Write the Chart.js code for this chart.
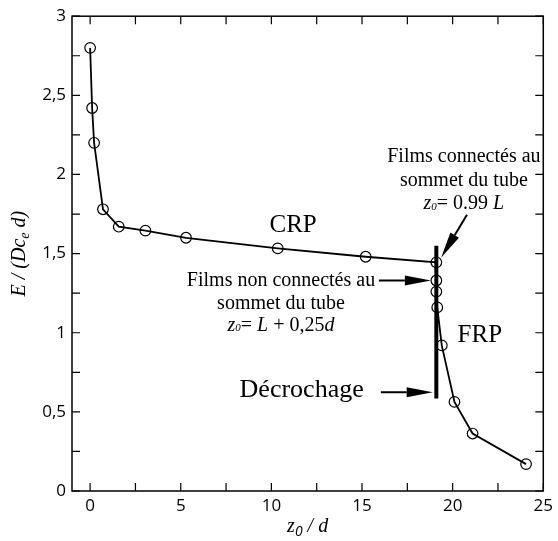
<!DOCTYPE html>
<html>
<head>
<meta charset="utf-8">
<script src="https://cdn.jsdelivr.net/npm/chart.js@4"></script>
<style>
    html, body { margin: 0; padding: 0; background: #fff; }
    #wrap { width: 558px; height: 541px; }
</style>
</head>
<body>
<div id="wrap"><canvas id="chart"></canvas></div>
<script>
// Data
const zValues = [0, 0.11, 0.22, 0.71, 1.58, 3.05, 5.29, 10.35, 15.2, 19.1, 19.1, 19.1, 19.15, 19.4, 20.1, 21.1, 24.05];
const eValues = [2.80, 2.42, 2.20, 1.78, 1.67, 1.645, 1.60, 1.533, 1.48, 1.445, 1.33, 1.26, 1.16, 0.92, 0.563, 0.363, 0.17];

// Vertical "décrochage" bar
const stallZ = [19.1, 19.1];
const stallE = [1.55, 0.584];

// Ticks
const xTicks = [0, 2.5, 5, 7.5, 10, 12.5, 15, 17.5, 20, 22.5, 25];
const yTicks = [0, 0.25, 0.5, 0.75, 1, 1.25, 1.5, 1.75, 2, 2.25, 2.5, 2.75, 3];

const serif = '"Liberation Serif", "Times New Roman", serif';
const sans = '"Open Sans", "DejaVu Sans", sans-serif';

// draw a run of text pieces (for subscripts), aligned on x
function drawRich(ctx, parts, x, y, align) {
    let total = 0;
    parts.forEach(p => {
        ctx.font = p.font;
        total += ctx.measureText(p.t).width;
    });
    let cx = x;
    if (align === 'center') cx = x - total / 2;
    if (align === 'right') cx = x - total;
    ctx.textAlign = 'left';
    ctx.textBaseline = 'middle';
    parts.forEach(p => {
        ctx.font = p.font;
        ctx.fillText(p.t, cx, y + (p.dy || 0));
        cx += ctx.measureText(p.t).width;
    });
}

function drawArrow(ctx, x1, y1, x2, y2) {
    const ang = Math.atan2(y2 - y1, x2 - x1);
    const headLen = 26, headHalf = 5;
    const bx = x2 - headLen * Math.cos(ang);
    const by = y2 - headLen * Math.sin(ang);
    ctx.beginPath();
    ctx.moveTo(x1, y1);
    ctx.lineTo(bx, by);
    ctx.lineWidth = 2;
    ctx.stroke();
    ctx.beginPath();
    ctx.moveTo(x2, y2);
    ctx.lineTo(bx + headHalf * Math.sin(ang), by - headHalf * Math.cos(ang));
    ctx.lineTo(bx - headHalf * Math.sin(ang), by + headHalf * Math.cos(ang));
    ctx.closePath();
    ctx.fill();
}

const framePlugin = {
    id: 'frame',
    afterDraw(chart) {
        const ctx = chart.ctx;
        const a = chart.chartArea;
        const xs = chart.scales.x;
        const ys = chart.scales.y;
        const px = v => xs.getPixelForValue(v);
        const py = v => ys.getPixelForValue(v);
        ctx.save();
        ctx.strokeStyle = '#000';
        ctx.fillStyle = '#000';

        // box
        ctx.lineWidth = 1.5;
        ctx.strokeRect(a.left, a.top, a.right - a.left, a.bottom - a.top);

        // inward ticks on all four sides
        const len = 8;
        ctx.lineWidth = 1.2;
        ctx.beginPath();
        xTicks.forEach(v => {
            const x = px(v);
            ctx.moveTo(x, a.bottom); ctx.lineTo(x, a.bottom - len);
            ctx.moveTo(x, a.top); ctx.lineTo(x, a.top + len);
        });
        yTicks.forEach(v => {
            const y = py(v);
            ctx.moveTo(a.left, y); ctx.lineTo(a.left + len, y);
            ctx.moveTo(a.right, y); ctx.lineTo(a.right - len, y);
        });
        ctx.stroke();

        // axis titles
        const it = 'italic 20px ' + serif;
        const itSmall = 'italic 14px ' + serif;
        drawRich(ctx, [
            { t: 'z', font: 'italic 20px ' + serif },
            { t: '0', font: 'italic 14px ' + sans, dy: 5 },
            { t: ' / d', font: it }
        ], (a.left + a.right) / 2, 527, 'center');

        ctx.save();
        ctx.translate(20, (a.top + a.bottom) / 2);
        ctx.rotate(-Math.PI / 2);
        drawRich(ctx, [
            { t: 'E / (Dc', font: it },
            { t: 'e', font: itSmall, dy: 5 },
            { t: ' d)', font: it }
        ], 0, 0, 'center');
        ctx.restore();

        // labels
        ctx.font = '25px ' + serif;
        ctx.textAlign = 'center';
        ctx.textBaseline = 'middle';
        ctx.fillText('CRP', px(11.2), py(1.68));
        ctx.fillText('FRP', px(21.5), py(0.985));
        ctx.font = '26px ' + serif;
        ctx.fillText('Décrochage', px(11.67), py(0.64));

        const t20 = '20px ' + serif;
        const z0 = [
            { t: 'z', font: 'italic 20px ' + serif },
            { t: '0', font: 'italic 11px ' + serif, dy: 3 }
        ];
        ctx.font = t20;
        ctx.fillText('Films non connectés au', px(10.53), py(1.33));
        ctx.fillText('sommet du tube', px(10.53), py(1.185));
        drawRich(ctx, z0.concat([
            { t: '= ', font: t20 },
            { t: 'L', font: 'italic 20px ' + serif },
            { t: ' + 0,25', font: t20 },
            { t: 'd', font: 'italic 20px ' + serif }
        ]), px(10.53), py(1.046), 'center');

        ctx.font = t20;
        ctx.textAlign = 'center';
        ctx.fillText('Films connectés au', px(20.62), py(2.111));
        ctx.fillText('sommet du tube', px(20.62), py(1.96));
        drawRich(ctx, z0.concat([
            { t: '= 0.99 ', font: t20 },
            { t: 'L', font: 'italic 20px ' + serif }
        ]), px(20.62), py(1.815), 'center');

        // arrows
        drawArrow(ctx, px(20.79), py(1.745), px(19.37), py(1.476));
        drawArrow(ctx, px(15.93), py(1.33), px(18.8), py(1.33));
        drawArrow(ctx, px(16.04), py(0.624), px(18.9), py(0.624));

        ctx.restore();
    }
};

const ctx = document.getElementById('chart').getContext('2d');
new Chart(ctx, {
    type: 'scatter',
    data: {
        datasets: [
            {
                label: 'E',
                data: zValues.map((z, i) => ({ x: z, y: eValues[i] })),
                showLine: true,
                borderColor: '#000',
                borderWidth: 1.8,
                pointRadius: 5.3,
                pointBorderWidth: 1.2,
                pointBorderColor: '#000',
                pointBackgroundColor: 'rgba(0,0,0,0)',
                order: 2,
            },
            {
                label: 'stall',
                data: stallZ.map((z, i) => ({ x: z, y: stallE[i] })),
                showLine: true,
                borderColor: '#000',
                borderWidth: 4,
                pointRadius: 0,
                order: 1,
            },
        ],
    },
    options: {
        responsive: true,
        maintainAspectRatio: false,
        animation: false,
        layout: { padding: { top: 15, right: 8, left: 0, bottom: 0 } },
        plugins: {
            legend: { display: false },
            tooltip: { enabled: false },
        },
        scales: {
            x: {
                type: 'linear',
                min: -1,
                max: 25,
                afterBuildTicks: s => { s.ticks = xTicks.map(v => ({ value: v })); },
                afterFit: s => { s.height = 50; },
                grid: { display: false, drawTicks: false },
                border: { display: false },
                ticks: {
                    color: '#000',
                    padding: 5,
                    font: { family: sans, size: 17 },
                    maxRotation: 0,
                    callback: v => (v % 5 === 0 ? String(v) : ''),
                },
            },
            y: {
                type: 'linear',
                min: 0,
                max: 3,
                afterBuildTicks: s => { s.ticks = yTicks.map(v => ({ value: v })); },
                afterFit: s => { s.width = 72; },
                grid: { display: false, drawTicks: false },
                border: { display: false },
                ticks: {
                    color: '#000',
                    padding: 6,
                    font: { family: sans, size: 17 },
                    callback: v => (v % 0.5 === 0 ? String(v).replace('.', ',') : ''),
                },
            },
        },
    },
    plugins: [framePlugin],
});
</script>
</body>
</html>
